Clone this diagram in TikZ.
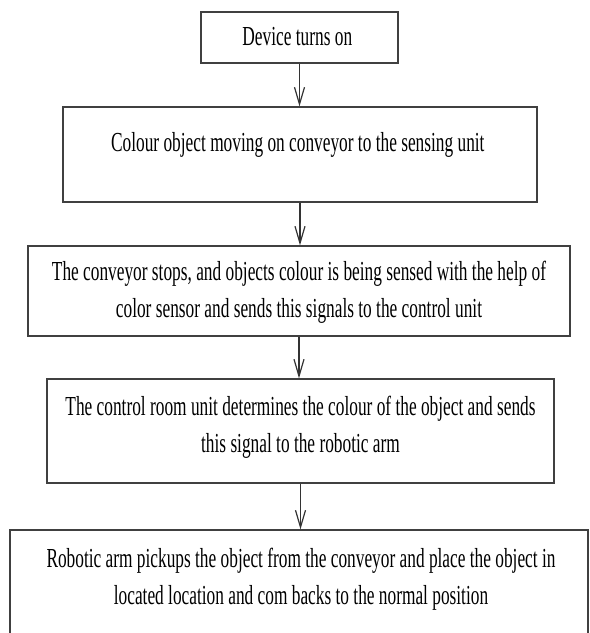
\documentclass[tikz,border=0pt]{standalone}
\usepackage{fontspec}
\setmainfont[FakeStretch=0.63]{Liberation Serif}
\usetikzlibrary{arrows.meta}

\begin{document}
\begin{tikzpicture}[x=1pt,y=-1pt,
    stepbox/.style={draw=black!75, line width=1.3pt, inner sep=0pt},
    steptext/.style={inner sep=0pt, anchor=north, align=center, font=\fontsize{27.5}{37}\selectfont},
    flow/.style={draw=black!80, line width=1.2pt, -{Straight Barb[length=17pt,width=10pt]}}]
      \useasboundingbox (0,0) rectangle (590,633);

      \node[stepbox, minimum width=197, minimum height=51] (b1) at (299.5,37.5) {};
      \node[stepbox, minimum width=474, minimum height=95] (b2) at (300,154.5) {};
      \node[stepbox, minimum width=542, minimum height=90] (b3) at (299,291) {};
      \node[stepbox, minimum width=507, minimum height=104] (b4) at (300.5,431) {};
      \node[stepbox, minimum width=578, minimum height=130] (b5) at (299,595) {};

      \node[steptext] (t1) at (299.5,27) { Device turns on };
      \node[steptext] (t2) at (300,132) { Colour object moving on conveyor to the sensing unit };
      \node[steptext] (t3) at (299,261) { The conveyor stops, and objects colour is being sensed with the help of\\ color sensor and sends this signals to the control unit };
      \node[steptext] (t4) at (300.5,396) { The control room unit determines the colour of the object and sends\\ this signal to the robotic arm };
      \node[steptext] (t5) at (301,548) { Robotic arm pickups the object from the conveyor and place the object in\\ located location and com backs to the normal position };

      \draw[flow] (b1.south) -- (b1.south |- b2.north);
      \draw[flow] (b2.south) -- (b2.south |- b3.north);
      \draw[flow] (b3.south) -- (b3.south |- b4.north);
      \draw[flow] (b4.south) -- (b4.south |- b5.north);
    \end{tikzpicture}
\end{document}
